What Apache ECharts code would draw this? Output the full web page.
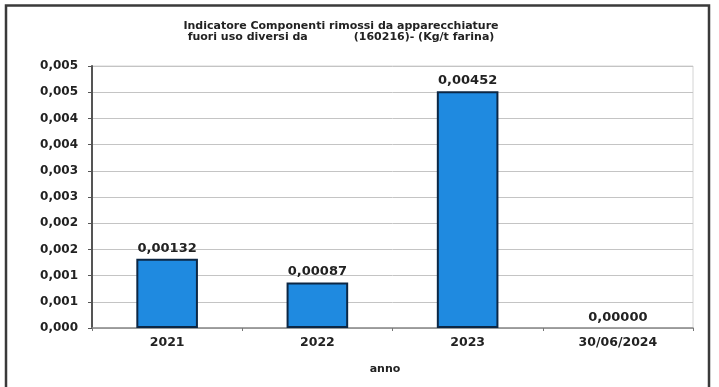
<!DOCTYPE html>
<html>
<head>
    <meta charset="utf-8">
    <title>Indicatore Componenti rimossi</title>
    <script src="https://cdn.jsdelivr.net/npm/echarts@6/dist/echarts.min.js"></script>
    <style>
        html, body { margin: 0; padding: 0; background: #fff; }
        #chart { width: 719px; height: 387px; }
    </style>
</head>
<body>
<div id="chart"></div>
<script>
    // dati
    var anni = ['2021', '2022', '2023', '30/06/2024'];
    var valori = [0.00132, 0.00087, 0.00452, 0.00000];
    // etichette asse y (arrotondate a 3 decimali come nell'originale)
    var yTicks = ['0,000', '0,001', '0,001', '0,002', '0,002', '0,003', '0,003', '0,004', '0,004', '0,005', '0,005'];
    var yStep = 0.0005;

    var font = 'DejaVu Sans';
    // barra a zero: niente bordo
    var barre = valori.map(function (v) {
        return v === 0 ? { value: v, itemStyle: { borderWidth: 0 } } : v;
    });

    var myChart = echarts.init(document.getElementById('chart'));
    myChart.setOption({
        animation: false,
        title: {
            text: 'Indicatore Componenti rimossi da apparecchiature\nfuori uso diversi da            (160216)- (Kg/t farina)',
            left: 336,
            textAlign: 'center',
            top: 16,
            textStyle: { fontFamily: font, fontSize: 11, fontWeight: 'bold', color: '#222', lineHeight: 10.5 }
        },
        grid: {
            left: 92, right: 26, top: 66, bottom: 59,
            show: true, borderColor: '#d4d4d4', borderWidth: 1
        },
        graphic: [{
            type: 'polyline',
            shape: { points: [[6, 390], [6, 5.5], [709, 5.5], [709, 390]] },
            style: { stroke: '#3a3a3a', lineWidth: 2.5, fill: null }
        }],
        xAxis: {
            type: 'category',
            data: anni,
            name: 'anno',
            nameLocation: 'middle',
            nameGap: 36,
            nameTextStyle: { fontFamily: font, fontSize: 11, fontWeight: 'bold', color: '#222', padding: [0, 15, 0, 0] },
            axisLine: { lineStyle: { color: '#8a8a8a', width: 1.5 } },
            axisTick: { show: true, length: 3, lineStyle: { color: '#777' } },
            axisLabel: { fontFamily: font, fontSize: 12.5, fontWeight: 'bold', color: '#222', margin: 8 }
        },
        yAxis: {
            type: 'value',
            min: 0,
            max: 0.005,
            interval: yStep,
            axisLine: { show: true, lineStyle: { color: '#555', width: 2 } },
            axisTick: { show: true, length: 4, lineStyle: { color: '#555' } },
            splitLine: { lineStyle: { color: '#c4c4c4', width: 1 } },
            axisLabel: {
                fontFamily: font, fontSize: 12, fontWeight: 'bold', color: '#222', margin: 14,
                formatter: function (v) {
                    return yTicks[Math.round(v / yStep)];
                }
            }
        },
        series: [{
            type: 'bar',
            data: barre,
            barWidth: '41%',
            itemStyle: { color: '#1f8ae0', borderColor: '#0c2744', borderWidth: 2 },
            label: {
                show: true,
                position: 'top',
                distance: 4,
                fontFamily: font, fontSize: 13, fontWeight: 'bold', color: '#222',
                formatter: function (p) {
                    return p.value.toFixed(5).replace('.', ',');
                }
            }
        }]
    });
</script>
</body>
</html>
